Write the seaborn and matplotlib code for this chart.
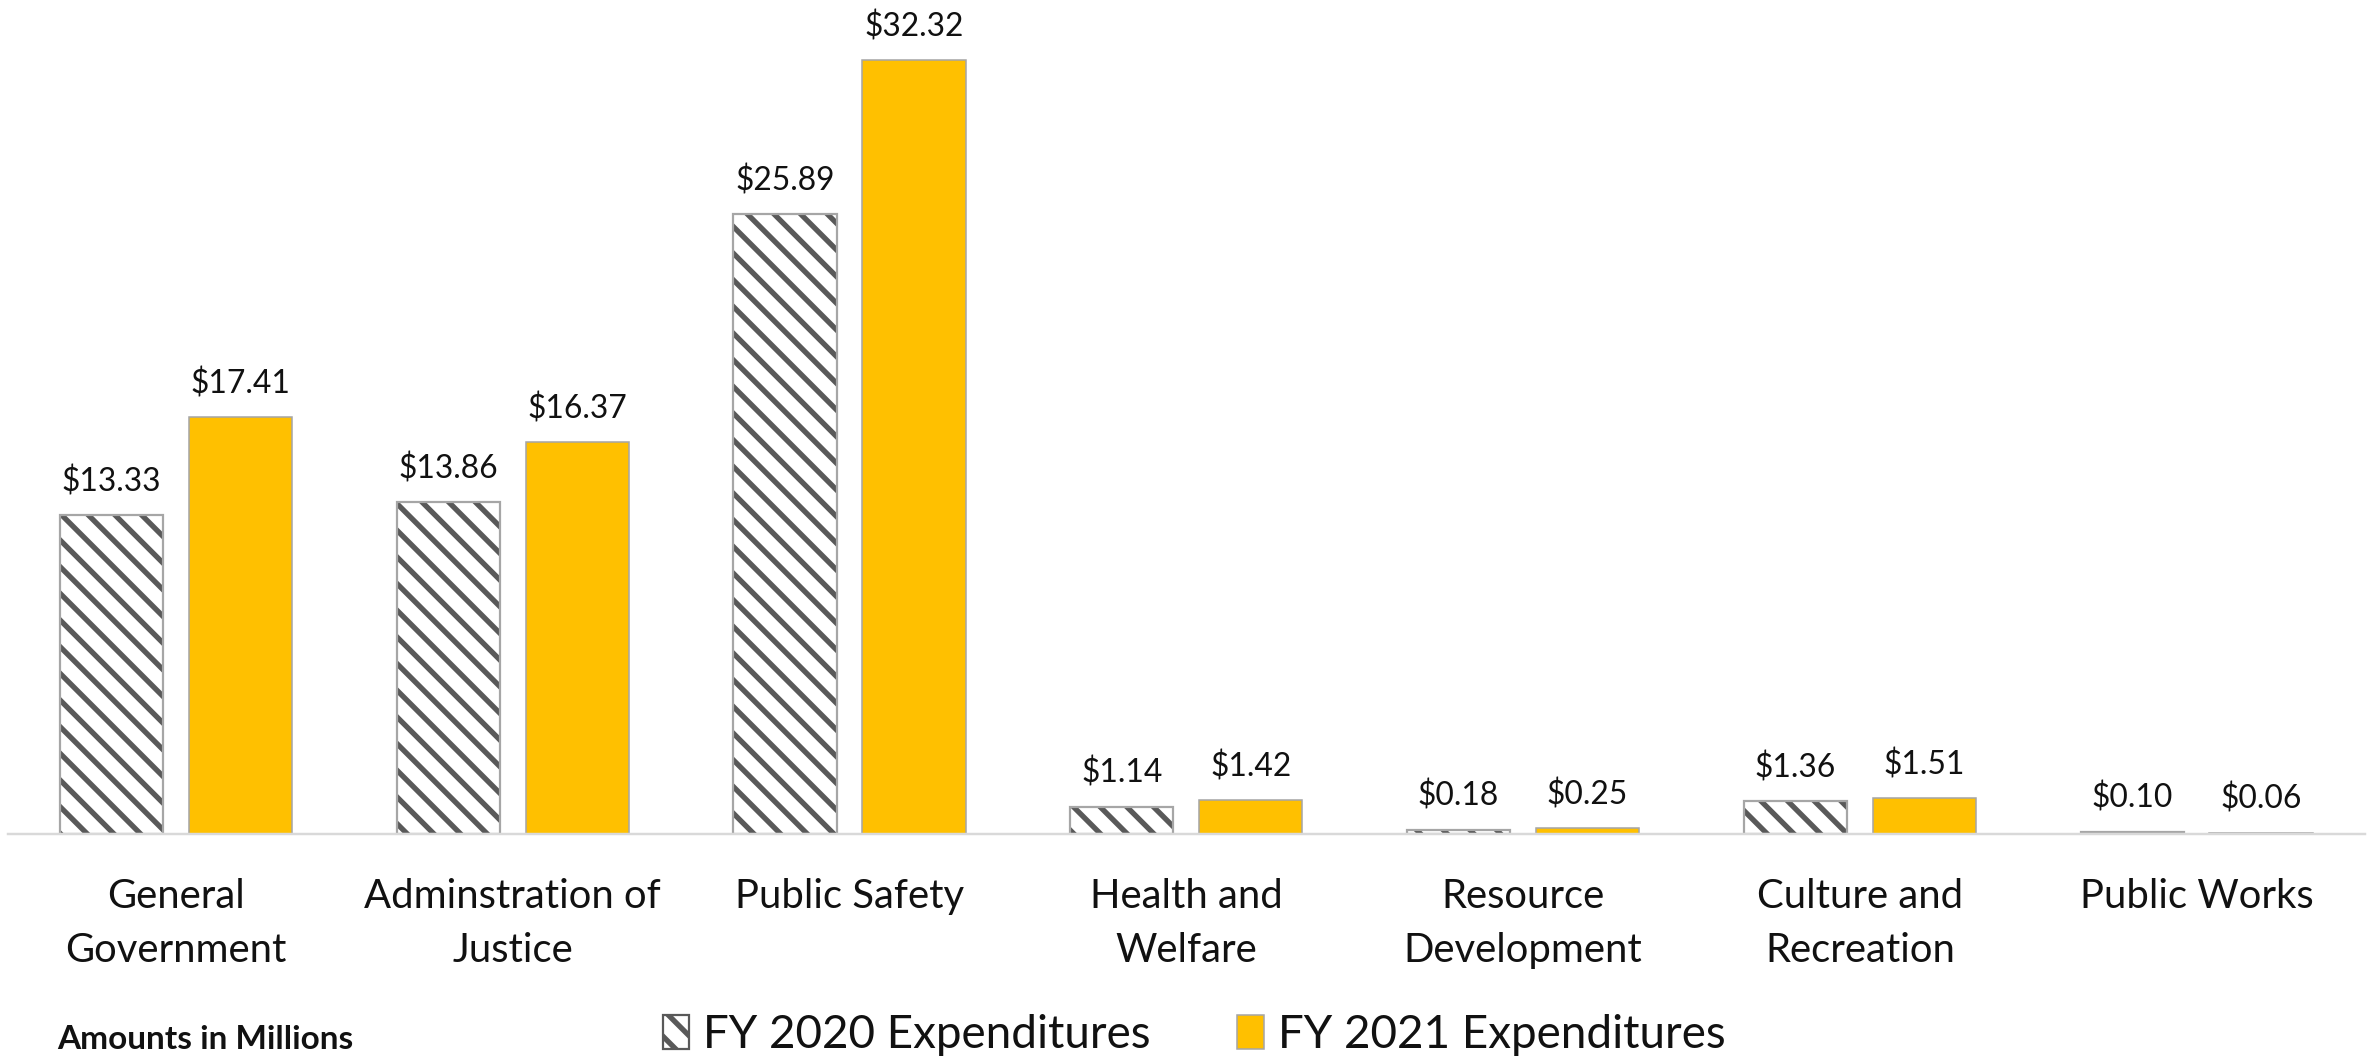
import matplotlib
matplotlib.use("Agg")
import matplotlib.pyplot as plt
from matplotlib.patches import Patch, Rectangle
import seaborn as sns
import pandas as pd

# Expenditure categories and amounts (in millions)
categories = [
    "General\nGovernment",
    "Adminstration of\nJustice",
    "Public Safety",
    "Health and\nWelfare",
    "Resource\nDevelopment",
    "Culture and\nRecreation",
    "Public Works",
]
fy2020 = [13.33, 13.86, 25.89, 1.14, 0.18, 1.36, 0.10]
fy2021 = [17.41, 16.37, 32.32, 1.42, 0.25, 1.51, 0.06]
series = ["FY 2020 Expenditures", "FY 2021 Expenditures"]
note = "Amounts in Millions"

GOLD = "#FFC000"
HATCH_GREY = "#595959"
OUTLINE = "#a6a6a6"
TEXT = "#111111"

sns.set_theme(style="white")
plt.rcParams["font.family"] = ["Lato", "DejaVu Sans"]
plt.rcParams["hatch.linewidth"] = 2.4
plt.rcParams["hatch.color"] = HATCH_GREY

df = pd.DataFrame({
    "Category": categories * 2,
    "Amount": fy2020 + fy2021,
    "Series": [series[0]] * len(categories) + [series[1]] * len(categories),
})

DPI = 160
fig = plt.figure(figsize=(2369 / DPI, 1059 / DPI), dpi=DPI)
ax = fig.add_axes([0.0032, 0.2125, 0.9951, 0.7686])

sns.barplot(
    data=df, x="Category", y="Amount", hue="Series",
    order=categories, hue_order=series,
    palette=["white", GOLD], saturation=1,
    width=0.766, gap=0.2, errorbar=None, legend=False, ax=ax,
)

has_hatchcolor = hasattr(Patch, "set_hatchcolor")
HATCH = "\\\\"

# Hatched FY 2020 bars
for bar in ax.containers[0]:
    bar.set_facecolor("white")
    bar.set_hatch(HATCH)
    if has_hatchcolor:
        bar.set_edgecolor(OUTLINE)
        bar.set_hatchcolor(HATCH_GREY)
        bar.set_linewidth(1.0)
    else:
        bar.set_edgecolor(HATCH_GREY)
        bar.set_linewidth(0)
        ax.add_patch(Rectangle(bar.get_xy(), bar.get_width(), bar.get_height(),
                               fill=False, edgecolor=OUTLINE, linewidth=1.0,
                               zorder=bar.get_zorder() + 0.1))

# Solid FY 2021 bars
for bar in ax.containers[1]:
    bar.set_facecolor(GOLD)
    bar.set_edgecolor(OUTLINE)
    bar.set_linewidth(0.7)

for cont, vals in zip(ax.containers[:2], [fy2020, fy2021]):
    ax.bar_label(cont, labels=[f"${v:.2f}" for v in vals], padding=8,
                 fontsize=14.3, color=TEXT)

ax.set_xlim(-0.5, len(categories) - 0.5)
ax.set_ylim(0, 34)
ax.set_xlabel("")
ax.set_ylabel("")
ax.set_yticks([])
ax.tick_params(axis="x", length=0, pad=20, labelsize=18, labelcolor=TEXT)
for lbl in ax.get_xticklabels():
    lbl.set_linespacing(1.55)
for side in ["top", "left", "right"]:
    ax.spines[side].set_visible(False)
ax.spines["bottom"].set_color("#d9d9d9")
ax.spines["bottom"].set_linewidth(1.1)

if has_hatchcolor:
    h2020 = Patch(facecolor="white", edgecolor=OUTLINE, hatch=HATCH,
                  hatchcolor=HATCH_GREY, linewidth=1.0)
else:
    h2020 = Patch(facecolor="white", edgecolor=HATCH_GREY, hatch=HATCH, linewidth=1.0)
h2021 = Patch(facecolor=GOLD, edgecolor=OUTLINE, linewidth=0.7)

fig.legend([h2020, h2021], series, loc="center", bbox_to_anchor=(0.504, 0.0227),
           ncol=2, frameon=False, fontsize=20.6, handlelength=0.58, handleheight=0.78,
           handletextpad=0.3, columnspacing=1.9, labelcolor=TEXT)

fig.text(0.024, 0.018, note, fontsize=15, fontweight="bold", va="center",
         ha="left", color=TEXT)

fig.savefig("out.png", dpi=DPI)
